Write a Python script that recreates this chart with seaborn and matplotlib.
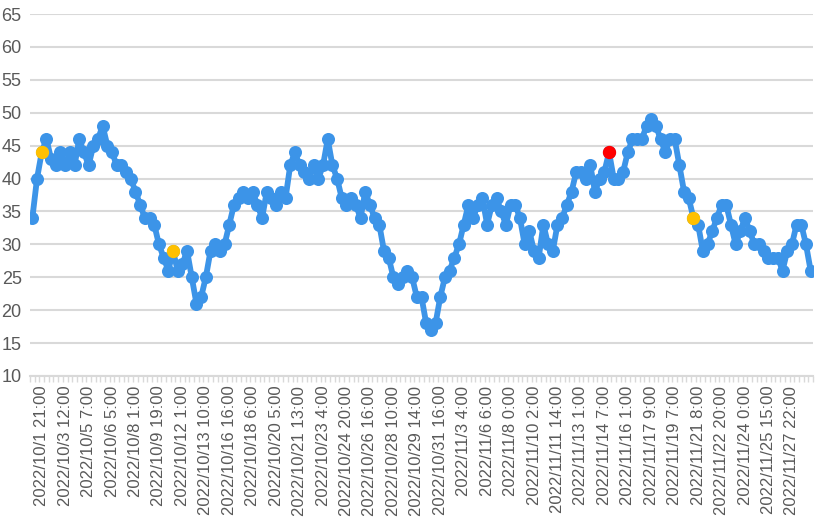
import matplotlib
matplotlib.use("Agg")
import matplotlib.pyplot as plt
import seaborn as sns
import numpy as np
import pandas as pd

# ---- data -------------------------------------------------------------
values = [
    34, 40, 44, 46, 43, 42, 44, 42, 44, 42,
    46, 44, 42, 45, 46, 48, 45, 44, 42, 42,
    41, 40, 38, 36, 34, 34, 33, 30, 28, 26,
    29, 26, 27, 29, 25, 21, 22, 25, 29, 30,
    29, 30, 33, 36, 37, 38, 37, 38, 36, 34,
    38, 37, 36, 38, 37, 42, 44, 42, 41, 40,
    42, 40, 42, 46, 42, 40, 37, 36, 37, 36,
    34, 38, 36, 34, 33, 29, 28, 25, 24, 25,
    26, 25, 22, 22, 18, 17, 18, 22, 25, 26,
    28, 30, 33, 36, 34, 36, 37, 33, 36, 37,
    35, 33, 36, 36, 34, 30, 32, 29, 28, 33,
    30, 29, 33, 34, 36, 38, 41, 41, 40, 42,
    38, 40, 41, 44, 40, 40, 41, 44, 46, 46,
    46, 48, 49, 48, 46, 44, 46, 46, 42, 38,
    37, 34, 33, 29, 30, 32, 34, 36, 36, 33,
    30, 32, 34, 32, 30, 30, 29, 28, 28, 28,
    26, 29, 30, 33, 33, 30, 26,
]
yellow_idx = [2, 30, 141]
red_idx = [123]

tick_labels = [
    "2022/10/1 21:00", "2022/10/3 12:00", "2022/10/5 7:00", "2022/10/6 5:00",
    "2022/10/8 1:00", "2022/10/9 19:00", "2022/10/12 1:00", "2022/10/13 10:00",
    "2022/10/16 16:00", "2022/10/18 6:00", "2022/10/20 5:00", "2022/10/21 13:00",
    "2022/10/23 4:00", "2022/10/24 20:00", "2022/10/26 16:00", "2022/10/28 10:00",
    "2022/10/29 14:00", "2022/10/31 16:00", "2022/11/3 4:00", "2022/11/6 6:00",
    "2022/11/8 0:00", "2022/11/10 2:00", "2022/11/11 14:00", "2022/11/13 1:00",
    "2022/11/14 7:00", "2022/11/16 1:00", "2022/11/17 9:00", "2022/11/19 7:00",
    "2022/11/21 8:00", "2022/11/22 20:00", "2022/11/24 0:00", "2022/11/25 15:00",
    "2022/11/27 22:00",
]
label_start = 2
label_step = 5

# ---- figure -----------------------------------------------------------
sns.set_theme(style="white")
plt.rcParams["font.family"] = ["Liberation Sans", "DejaVu Sans"]

W, H = 821, 526
fig = plt.figure(figsize=(W / 100, H / 100), dpi=100)
ax = fig.add_axes([30 / W, 150 / H, (813 - 30) / W, (376 - 14) / H])

n = len(values)
df = pd.DataFrame({"idx": np.arange(n), "value": values})
blue = "#3C94E8"

sns.lineplot(data=df, x="idx", y="value", ax=ax, color=blue, linewidth=4.2,
             marker="o", markersize=9.4, markeredgewidth=0, zorder=3)
sns.scatterplot(data=df.iloc[yellow_idx], x="idx", y="value", ax=ax,
                color="#FFC000", s=92, linewidth=0, zorder=5)
sns.scatterplot(data=df.iloc[red_idx], x="idx", y="value", ax=ax,
                color="#FF0000", s=92, linewidth=0, zorder=5)

ax.set_xlim(-0.5, n - 0.5)
ax.set_ylim(10, 65)
ax.set_yticks(np.arange(10, 66, 5))
ax.yaxis.grid(True, color="#D9D9D9", linewidth=1.5)
ax.xaxis.grid(False)
for s in ["top", "right", "left"]:
    ax.spines[s].set_visible(False)
ax.spines["bottom"].set_color("#D9D9D9")
ax.spines["bottom"].set_linewidth(1.5)

pos = [label_start + label_step * j for j in range(len(tick_labels))]
ax.set_xticks(pos)
ax.set_xticklabels(tick_labels, rotation=90, fontsize=12, color="#595959")
ax.set_xticks(np.arange(-0.5, n, 1), minor=True)
ax.tick_params(axis="x", which="major", length=0, pad=7)
ax.tick_params(axis="x", which="minor", length=4, width=1, color="#D9D9D9",
               direction="out", bottom=True)
ax.tick_params(axis="y", length=0, pad=6, labelsize=13, labelcolor="#595959")
ax.set_xlabel("")
ax.set_ylabel("")

fig.savefig("out.png", dpi=100)
